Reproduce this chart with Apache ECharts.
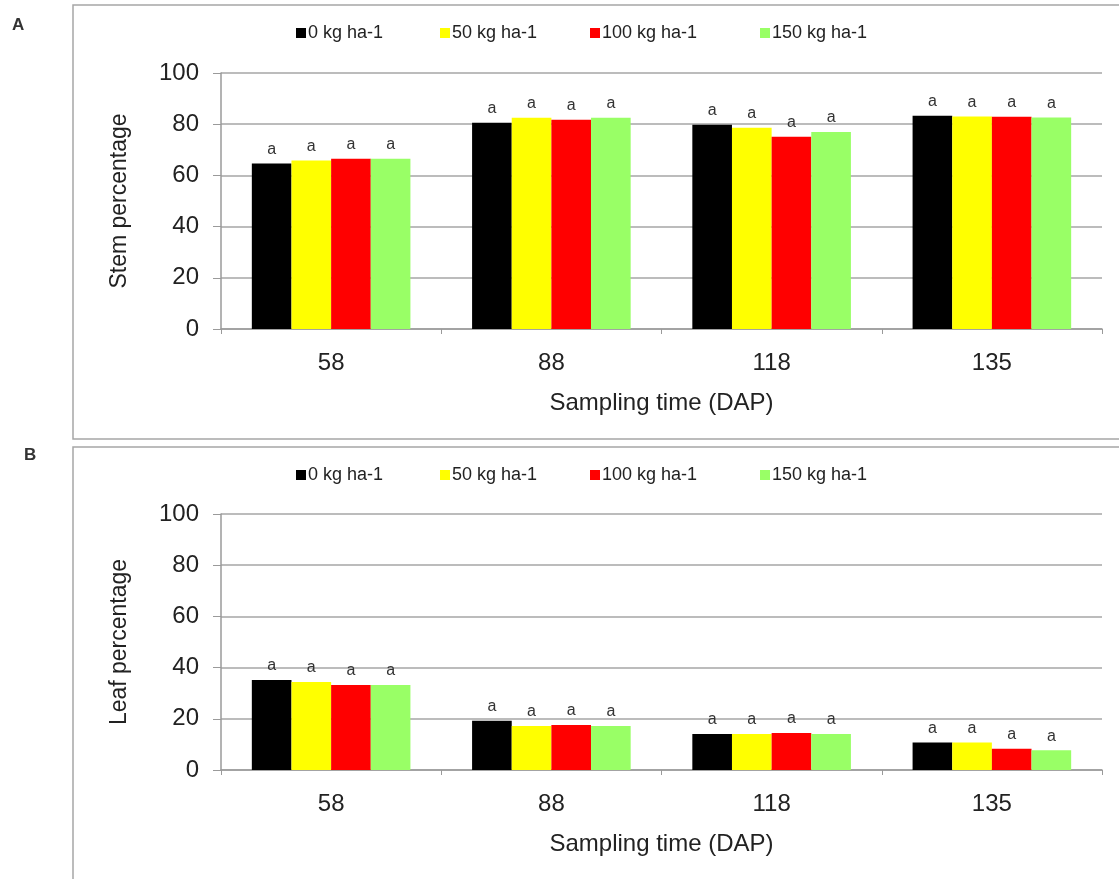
<!DOCTYPE html>
<html>
<head>
<meta charset="utf-8">
<title>Stem and leaf percentage by sampling time</title>
<script src="https://cdn.jsdelivr.net/npm/echarts@6/dist/echarts.min.js"></script>
<style>
  html, body { margin: 0; padding: 0; background: #fff; }
  #chart { width: 1119px; height: 879px; }
</style>
</head>
<body>
<div id="chart"></div>
<script>
// Sampling times (days after planting)
const categories = ['58', '88', '118', '135'];

// Nitrogen rates
const rateNames = ['0 kg ha-1', '50 kg ha-1', '100 kg ha-1', '150 kg ha-1'];
const rateColors = ['#000000', '#ffff00', '#ff0000', '#99ff66'];

// Panel A: stem percentage
const stem0 = [64.6, 80.6, 79.8, 83.3];
const stem50 = [65.8, 82.5, 78.6, 83.0];
const stem100 = [66.5, 81.7, 75.1, 82.9];
const stem150 = [66.5, 82.5, 77.0, 82.6];

// Panel B: leaf percentage
const leaf0 = [35.2, 19.2, 14.1, 10.7];
const leaf50 = [34.4, 17.2, 14.1, 10.7];
const leaf100 = [33.2, 17.6, 14.5, 8.3];
const leaf150 = [33.2, 17.2, 14.1, 7.7];

// Mean separation letters (same for every bar)
const stemLetters = [['a','a','a','a'], ['a','a','a','a'], ['a','a','a','a'], ['a','a','a','a']];
const leafLetters = [['a','a','a','a'], ['a','a','a','a'], ['a','a','a','a'], ['a','a','a','a']];

// Y axis ticks
const yMin = 0, yMax = 100, yStep = 20;

const FONT = '"Liberation Sans", Arial, sans-serif';
const TXT = '#222';
const LINE = '#9a9a9a';

const stemSeries = [stem0, stem50, stem100, stem150];
const leafSeries = [leaf0, leaf50, leaf100, leaf150];

function makeBars(valuesList, lettersList, axisIndex) {
  return valuesList.map((vals, i) => ({
    name: rateNames[i],
    type: 'bar',
    xAxisIndex: axisIndex,
    yAxisIndex: axisIndex,
    data: vals,
    barGap: '0%',
    barCategoryGap: '28%',
    itemStyle: { color: rateColors[i] },
    label: {
      show: true,
      position: 'top',
      distance: 6,
      fontFamily: FONT,
      fontSize: 16,
      color: '#333',
      formatter: p => lettersList[i][p.dataIndex]
    },
    emphasis: { disabled: true },
    animation: false
  }));
}

function makeXAxis(gridIndex) {
  return {
    type: 'category',
    gridIndex: gridIndex,
    data: categories,
    name: 'Sampling time (DAP)',
    nameLocation: 'middle',
    nameGap: 62,
    nameTextStyle: { fontFamily: FONT, fontSize: 24, color: TXT },
    axisLine: { lineStyle: { color: LINE, width: 1.5 } },
    axisTick: { show: true, alignWithLabel: false, length: 5, lineStyle: { color: LINE } },
    axisLabel: { fontFamily: FONT, fontSize: 24, color: TXT, margin: 22 }
  };
}

function makeYAxis(gridIndex, title) {
  return {
    type: 'value',
    gridIndex: gridIndex,
    min: yMin,
    max: yMax,
    interval: yStep,
    name: title,
    nameLocation: 'middle',
    nameRotate: 90,
    nameGap: 90,
    nameTextStyle: { fontFamily: FONT, fontSize: 23, color: TXT },
    axisLine: { show: true, lineStyle: { color: LINE, width: 1.5 } },
    axisTick: { show: true, length: 8, lineStyle: { color: LINE } },
    axisLabel: { fontFamily: FONT, fontSize: 24, color: TXT, margin: 22 },
    splitLine: { show: true, lineStyle: { color: '#a6a6a6', width: 1.5 } }
  };
}

// One legend component per item so each entry sits at its own x position
const legendLefts = [296, 440, 590, 760];
function makeLegends(top) {
  return rateNames.map((n, i) => ({
    data: [n],
    left: legendLefts[i],
    top: top,
    orient: 'horizontal',
    itemWidth: 10,
    itemHeight: 10,
    icon: 'rect',
    itemGap: 0,
    padding: 0,
    textStyle: { fontFamily: FONT, fontSize: 18, color: TXT, padding: [0, 0, 0, -3] },
    selectedMode: false
  }));
}

const chart = echarts.init(document.getElementById('chart'), null, { renderer: 'canvas' });

chart.setOption({
  backgroundColor: '#ffffff',
  animation: false,
  legend: makeLegends(24).concat(makeLegends(466)),
  grid: [
    { left: 221, right: 17, top: 73, height: 256 },
    { left: 221, right: 17, top: 514, height: 256 }
  ],
  xAxis: [makeXAxis(0), makeXAxis(1)],
  yAxis: [makeYAxis(0, 'Stem percentage'), makeYAxis(1, 'Leaf percentage')],
  series: makeBars(stemSeries, stemLetters, 0).concat(makeBars(leafSeries, leafLetters, 1)),
  graphic: [
    { type: 'rect', shape: { x: 73, y: 5, width: 1100, height: 434 },
      style: { fill: null, stroke: '#a6a6a6', lineWidth: 1.5 }, silent: true },
    { type: 'rect', shape: { x: 73, y: 447, width: 1100, height: 500 },
      style: { fill: null, stroke: '#a6a6a6', lineWidth: 1.5 }, silent: true },
    { type: 'text', left: 12, top: 17,
      style: { text: 'A', fontFamily: FONT, fontSize: 17, fontWeight: 'bold', fill: '#333' } },
    { type: 'text', left: 24, top: 447,
      style: { text: 'B', fontFamily: FONT, fontSize: 17, fontWeight: 'bold', fill: '#333' } }
  ]
});
</script>
</body>
</html>
